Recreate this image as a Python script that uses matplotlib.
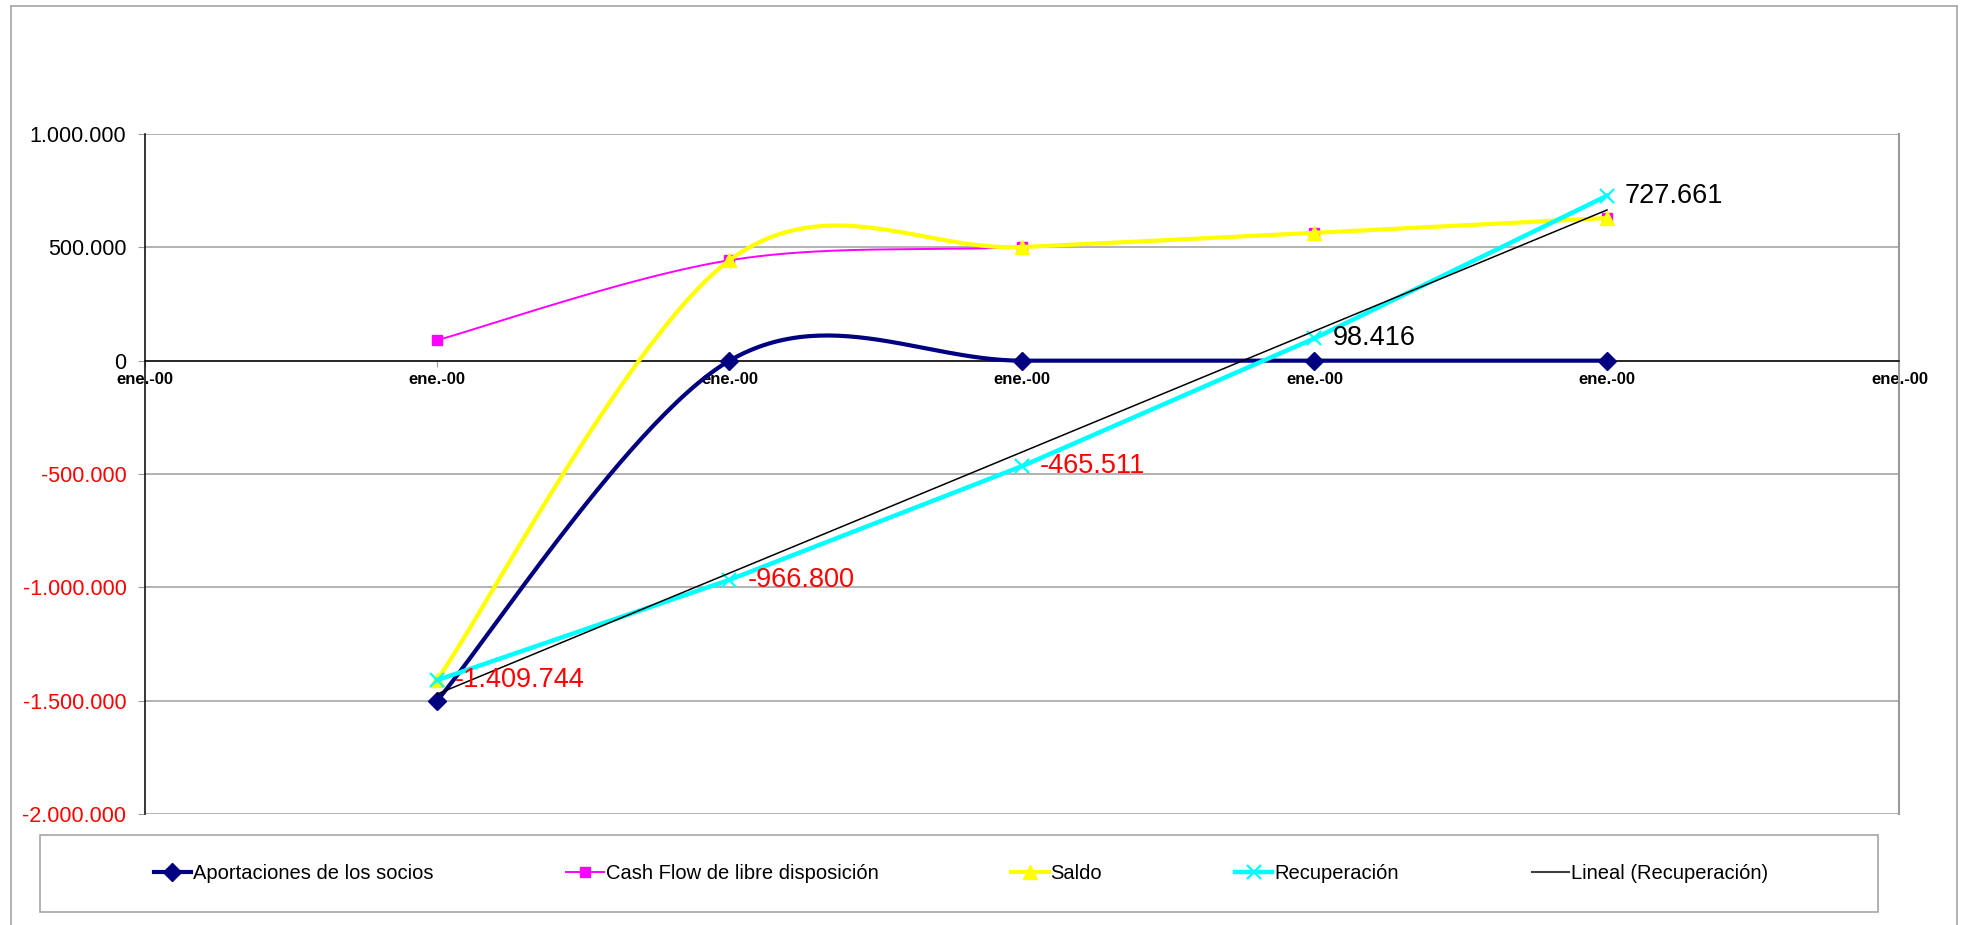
import numpy as np
import matplotlib
matplotlib.use("Agg")
import matplotlib.pyplot as plt
from matplotlib.lines import Line2D
from matplotlib.patches import Rectangle
from matplotlib.ticker import FixedLocator, FixedFormatter, FuncFormatter

plt.rcParams['font.family'] = ['Liberation Sans', 'DejaVu Sans']

# ---------------- data ----------------
periods = [1, 2, 3, 4, 5]
x_ticks = [0, 1, 2, 3, 4, 5, 6]
x_tick_labels = ['ene.-00'] * 7
aportaciones = [-1500000, 0, 0, 0, 0]
cash_flow = [90256, 442944, 501289, 563927, 629245]
saldo = [-1409744, 442944, 501289, 563927, 629245]
recuperacion = [-1409744, -966800, -465511, 98416, 727661]
y_ticks = [-2000000, -1500000, -1000000, -500000, 0, 500000, 1000000]
series_names = ['Aportaciones de los socios', 'Cash Flow de libre disposición',
                'Saldo', 'Recuperación', 'Lineal (Recuperación)']


def fmt(v):
    return '{:,.0f}'.format(v).replace(',', '.')


def smooth(xs, ys, n=60):
    P = np.column_stack([xs, ys]).astype(float)
    E = np.vstack([P[0], P, P[-1]])
    t = np.linspace(0, 1, n)[:, None]
    out = []
    for i in range(len(P) - 1):
        p0, p1, p2, p3 = E[i], E[i + 1], E[i + 2], E[i + 3]
        c1 = p1 + (p2 - p0) / 6.0
        c2 = p2 - (p3 - p1) / 6.0
        seg = ((1 - t) ** 3) * p1 + 3 * ((1 - t) ** 2) * t * c1 + 3 * (1 - t) * (t ** 2) * c2 + (t ** 3) * p2
        out.append(seg if i == 0 else seg[1:])
    S = np.vstack(out)
    return S[:, 0], S[:, 1]


W, H = 1961, 925
fig = plt.figure(figsize=(W / 100, H / 100), dpi=100)
ax = fig.add_axes([144.5 / W, 1 - 814 / H, (1899.5 - 144.5) / W, (814 - 134) / H])

navy = '#000080'
mag = '#FF00FF'
yel = '#FFFF00'
cyan = '#00FFFF'

# Aportaciones
sx, sy = smooth(periods, aportaciones)
ax.plot(sx, sy, color=navy, lw=3.0, zorder=3, solid_capstyle='round')
ax.plot(periods, aportaciones, ls='none', marker='D', ms=9, color=navy, zorder=3)
# Cash flow
sx, sy = smooth(periods, cash_flow)
ax.plot(sx, sy, color=mag, lw=1.4, zorder=4)
ax.plot(periods, cash_flow, ls='none', marker='s', ms=7.5, color=mag, zorder=4)
# Saldo
sx, sy = smooth(periods, saldo)
ax.plot(sx, sy, color=yel, lw=3.0, zorder=5)
ax.plot(periods, saldo, ls='none', marker='^', ms=10, color=yel, zorder=5)
# Recuperacion
ax.plot(periods, recuperacion, color=cyan, lw=3.2, marker='x', ms=10, mew=1.6, zorder=6)
# trend line
coef = np.polyfit(periods, recuperacion, 1)
trend = np.polyval(coef, periods)
ax.plot([periods[0], periods[-1]], [trend[0], trend[-1]], color='black', lw=1.1, zorder=7)

# data labels
for xv, yv in zip(periods, recuperacion):
    ax.annotate(fmt(yv), (xv, yv), xytext=(13, 0), textcoords='offset points',
                ha='left', va='center', fontsize=19.5,
                color='#FF0000' if yv < 0 else 'black', zorder=8)

# axes
ax.set_xlim(0, 6)
ax.set_ylim(-2000000, 1000000)
ax.xaxis.set_major_locator(FixedLocator(x_ticks))
ax.xaxis.set_major_formatter(FixedFormatter(x_tick_labels))
ax.yaxis.set_major_locator(FixedLocator(y_ticks))
ax.yaxis.set_major_formatter(FuncFormatter(lambda v, p: fmt(v)))

ax.spines['bottom'].set_position(('data', 0))
ax.spines['bottom'].set_color('black')
ax.spines['bottom'].set_linewidth(1.1)
ax.spines['left'].set_color('black')
ax.spines['left'].set_linewidth(1.1)
ax.spines['top'].set_visible(False)
ax.spines['right'].set_color('#999999')
ax.spines['right'].set_linewidth(1.5)
ax.tick_params(axis='x', length=4, color='#999999', pad=4, labelsize=12)
ax.tick_params(axis='y', length=5, color='#999999', pad=8, labelsize=15.5)
ax.yaxis.grid(True, color='#A6A6A6', lw=1.2)
ax.set_axisbelow(True)

fig.canvas.draw()
for lab in ax.get_xticklabels():
    lab.set_fontweight('bold')
    lab.set_fontsize(12)
for lab, v in zip(ax.get_yticklabels(), y_ticks):
    lab.set_color('#FF0000' if v < 0 else 'black')

# outer chart frame (left, top, right)
fig.add_artist(Line2D([11 / W, 11 / W], [0, 1 - 6 / H], transform=fig.transFigure, color='#A6A6A6', lw=1.2))
fig.add_artist(Line2D([11 / W, 1957 / W], [1 - 6 / H, 1 - 6 / H], transform=fig.transFigure, color='#A6A6A6', lw=1.2))
fig.add_artist(Line2D([1957 / W, 1957 / W], [0, 1 - 6 / H], transform=fig.transFigure, color='#A6A6A6', lw=1.2))

# legend frame
fig.add_artist(Rectangle((40 / W, 1 - 912 / H), (1878 - 40) / W, (912 - 835) / H,
                         transform=fig.transFigure, fill=False, edgecolor='#A6A6A6', lw=1.2))

handles = [
    Line2D([], [], color=navy, lw=3.0, marker='D', ms=9),
    Line2D([], [], color=mag, lw=1.4, marker='s', ms=7.5),
    Line2D([], [], color=yel, lw=3.0, marker='^', ms=10),
    Line2D([], [], color=cyan, lw=3.2, marker='x', ms=10, mew=1.6),
    Line2D([], [], color='#404040', lw=1.5),
]
fig.legend(handles, series_names, loc='center', bbox_to_anchor=(961 / W, 1 - 873.5 / H),
           ncol=5, frameon=False, fontsize=14.5, handlelength=1.85, handletextpad=0.1,
           columnspacing=6.6, borderpad=0)

fig.savefig('out.png', dpi=100, facecolor='white')
